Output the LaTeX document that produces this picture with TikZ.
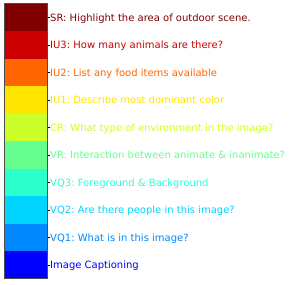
\documentclass[tikz,border=0pt]{standalone}
\usepackage{fontspec}
\setmainfont{DejaVu Sans}
\frenchspacing
\definecolor{cSR}{HTML}{800000}
\definecolor{cIUc}{HTML}{CC0000}
\definecolor{cIUb}{HTML}{FF6600}
\definecolor{cIUa}{HTML}{FFE500}
\definecolor{cCR}{HTML}{CCFF29}
\definecolor{cVR}{HTML}{66FF8F}
\definecolor{cVQc}{HTML}{2BFFCC}
\definecolor{cVQb}{HTML}{00D4FF}
\definecolor{cVQa}{HTML}{0088FF}
\definecolor{cIC}{HTML}{0000FF}
\begin{document}
\begin{tikzpicture}[x=1pt,y=1pt,
  lab/.style={anchor=base west,inner sep=0pt,text=#1,font=\fontsize{10}{12}\selectfont\frenchspacing},
  tick/.style={draw=black,line width=0.8pt}]
\useasboundingbox (0,0) rectangle (292,284);
\def\segs{cIC/{Image Captioning},cVQa/{VQ1: What is in this image?},cVQb/{VQ2: Are there people in this image?},cVQc/{VQ3: Foreground \& Background},cVR/{VR: Interaction between animate \& inanimate?},cCR/{CR: What type of environment in the image?},cIUa/{IU1: Describe most dominant color},cIUb/{IU2: List any food items available},cIUc/{IU3: How many animals are there?},cSR/{SR: Highlight the area of outdoor scene.}}
\foreach \c/\t [count=\i from 0] in \segs {
  \pgfmathsetmacro{\ylo}{5+27.5*\i}
  \pgfmathsetmacro{\yhi}{5+27.5*(\i+1)}
  \pgfmathsetmacro{\ym}{5+27.5*(\i+0.5)}
  \fill[\c] (4,\ylo) rectangle (47,\yhi);
  \coordinate (t\i) at (47,\ym);
  \coordinate (u\i) at (50,\ym);
  \draw[tick] (t\i) -- (u\i);
  \node[lab=\c] (l\i) at (50,\ym-3.6) {\t};
}
\node[draw=black!70,line width=0.8pt,inner sep=0pt,minimum width=43pt,minimum height=275pt,anchor=south west] (bar) at (4,5) {};
\end{tikzpicture}
\end{document}
